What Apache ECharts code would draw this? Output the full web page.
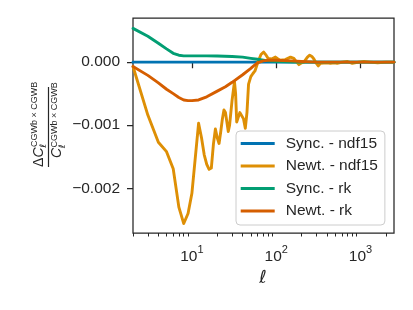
<!DOCTYPE html>
<html><head><meta charset="utf-8">
<script src="https://cdn.jsdelivr.net/npm/echarts@6/dist/echarts.min.js"></script>
<style>html,body{margin:0;padding:0;background:#fff}#c{width:413px;height:310px}</style>
</head><body><div id="c"></div>
<script>
// ---- data ----
const seriesNames = ['Sync. - ndf15', 'Newt. - ndf15', 'Sync. - rk', 'Newt. - rk'];
const seriesColors = ['#0173b2', '#de8f05', '#029e73', '#d55e00'];

const ellSyncNdf15 = [2, 10, 100, 1000, 2500];
const valSyncNdf15 = [0, 0, 0, 0, 0];

const ellNewtNdf15 = [2,3,4,5,6,7,8,9,10,11,12,13,14,15,16,17,18,19,20,21,22,23,24,25,26,27,28,30,32,33,34,35,37,39,41,43,45,47,50,53,56,59,62,66,71,75,80,88,98,105,112,128,148,162,175,186,200,213,235,250,265,280,300,316,335,352,400,440,490,530,610,700,800,950,1100,1300,1600,2000,2500];
const valNewtNdf15 = [-0.00007,-0.00084,-0.00127,-0.00142,-0.00169,-0.0023,-0.00256,-0.0024,-0.00208,-0.0015,-0.00097,-0.0012,-0.00147,-0.00162,-0.0017,-0.00168,-0.0013,-0.00106,-0.0012,-0.00129,-0.0011,-0.0009,-0.00076,-0.0008,-0.00095,-0.0011,-0.001,-0.0006,-0.00031,-0.0005,-0.00095,-0.0009,-0.0008,-0.00079,-0.0009,-0.00105,-0.0008,-0.00035,-0.00023,-0.00018,-0.00014,-0.00005,0.00003,0.00012,0.00016,0.00012,0.00006,0.00005,0.00008,0.00005,0.00003,0.00004,0.00008,0.00006,0,-0.00004,-0.00001,0,0.00008,0.00011,0.00009,0.00005,-0.00002,-0.00006,-0.00002,0,-0.00001,-0.00002,-0.00001,-0.00002,0,0.00001,-0.00002,0,0.00001,0,-0.00001,0,0];

const ellSyncRk = [2,3,4,5,6,7,8,10,15,20,30,40,50,60,80,100,130,160,200,300,500,1000,2500];
const valSyncRk = [0.000535,0.00041,0.0003,0.00021,0.00014,0.00011,0.0001,0.0001,0.0001,0.000098,0.00009,0.00008,0.00006,0.000045,0.00002,0.00001,0.000005,0.000002,0,0,0,0,0];

const ellNewtRk = [2,3,4,5,6,7,8,9,10,12,15,20,25,30,40,50,55,60,70,80,100,150,200,300,500,1000,2500];
const valNewtRk = [-0.00007,-0.00021,-0.00033,-0.00043,-0.0005,-0.00056,-0.0006,-0.00061,-0.00061,-0.0006,-0.00055,-0.00046,-0.00039,-0.00032,-0.0002,-0.0001,-0.00005,-0.00001,0.00002,0.00003,0.00003,0.00002,0.00001,0,0,0,0];

const xMajorTicks = [10, 100, 1000];
const xMinorTicks = [2,3,4,5,6,7,8,9,20,30,40,50,60,70,80,90,200,300,400,500,600,700,800,900,2000];
const yTicks = [0, -0.001, -0.002];
// ---------------

const ink = '#262626';
const FONT = '"Liberation Sans", Arial, sans-serif';
const pairs = (xs, ys) => xs.map((x, i) => [x, ys[i]]);
const allEll = [ellSyncNdf15, ellNewtNdf15, ellSyncRk, ellNewtRk];
const allVal = [valSyncNdf15, valNewtNdf15, valSyncRk, valNewtRk];

const chart = echarts.init(document.getElementById('c'), null, {renderer: 'canvas'});
chart.setOption({
  animation: false,
  backgroundColor: '#ffffff',
  grid: {left: 133, right: 19, top: 18, bottom: 77, show: true, borderColor: ink, borderWidth: 1.25, backgroundColor: 'transparent'},
  xAxis: [{
    type: 'log', logBase: 10, min: 2, max: 2500, position: 'bottom',
    axisLine: {show: false}, splitLine: {show: false}, minorTick: {show: false},
    axisTick: {show: true, inside: false, length: 6, lineStyle: {color: ink, width: 1.25}, customValues: xMajorTicks},
    axisLabel: {
      customValues: xMajorTicks, margin: 11, color: ink,
      formatter: v => '{a|10}{b|' + Math.round(Math.log10(v)) + '}',
      rich: {
        a: {fontSize: 15.5, fontFamily: FONT, color: ink, lineHeight: 26},
        b: {fontSize: 11, fontFamily: FONT, color: ink, lineHeight: 11, verticalAlign: 'top'}
      }
    }
  }, {
    type: 'log', logBase: 10, min: 2, max: 2500, position: 'bottom', offset: 0,
    axisLine: {show: false}, splitLine: {show: false}, axisLabel: {show: false},
    axisTick: {show: true, inside: false, length: 3.5, lineStyle: {color: ink, width: 1}, customValues: xMinorTicks}
  }],
  yAxis: {
    type: 'value', min: -0.00271, max: 0.0007,
    axisLine: {show: false}, splitLine: {show: false},
    axisTick: {show: true, inside: false, length: 6, lineStyle: {color: ink, width: 1.25}, customValues: yTicks},
    axisLabel: {
      customValues: yTicks, margin: 13, color: ink, fontSize: 15.5, fontFamily: FONT,
      formatter: v => (v < 0 ? '\u2212' : '') + Math.abs(v).toFixed(3)
    }
  },
  legend: {
    orient: 'vertical', left: 236, top: 131,
    data: seriesNames, icon: 'rect', itemWidth: 34, itemHeight: 3, itemGap: 4.5,
    padding: [3.5, 7, 5, 4.7],
    backgroundColor: 'rgba(255,255,255,0.8)', borderColor: '#cccccc', borderWidth: 1, borderRadius: 4,
    textStyle: {fontSize: 15.5, fontFamily: FONT, color: ink, lineHeight: 18, padding: [0, 0, 0, 6]}
  },
  series: seriesNames.map((name, i) => ({
    name, type: 'line', xAxisIndex: 0, data: pairs(allEll[i], allVal[i]),
    showSymbol: false, symbol: 'none', smooth: false, z: 2 + i,
    color: seriesColors[i],
    lineStyle: {color: seriesColors[i], width: 2.9, cap: 'round', join: 'round'}
  })),
  graphic: [
    {type: 'text', x: 263, y: 278, style: {text: '\u2113', font: 'italic 18px "DejaVu Sans"', fill: ink, textAlign: 'center', textVerticalAlign: 'middle', align: 'center', verticalAlign: 'middle'}},
    {type: 'group', x: 48.5, y: 127, rotation: Math.PI / 2, children: [
      {type: 'rect', shape: {x: -40, y: -0.6, width: 80, height: 1.2}, style: {fill: ink}},
      {type: 'text', x: -40, y: -5 + 2.7, style: {text: '\u0394', font: '14px "Liberation Sans"', fill: ink, textAlign: 'left', textVerticalAlign: 'bottom', align: 'left', verticalAlign: 'bottom'}},
      {type: 'text', x: -30.5, y: -5 + 2.7, style: {text: 'C', font: 'italic 14px "Liberation Sans"', fill: ink, textAlign: 'left', textVerticalAlign: 'bottom', align: 'left', verticalAlign: 'bottom'}},
      {type: 'text', x: -20, y: -11 + 1.7, style: {text: 'CGWb \u00d7 CGWB', font: '9px "Liberation Sans"', fill: ink, textAlign: 'left', textVerticalAlign: 'bottom', align: 'left', verticalAlign: 'bottom'}},
      {type: 'text', x: -20.5, y: -2.5 + 1.7, style: {text: '\u2113', font: 'italic 9px "DejaVu Sans"', fill: ink, textAlign: 'left', textVerticalAlign: 'bottom', align: 'left', verticalAlign: 'bottom'}},
      {type: 'text', x: -31, y: 13 + 2.7, style: {text: 'C', font: 'italic 14px "Liberation Sans"', fill: ink, textAlign: 'left', textVerticalAlign: 'bottom', align: 'left', verticalAlign: 'bottom'}},
      {type: 'text', x: -20.5, y: 9 + 1.7, style: {text: 'CGWb \u00d7 CGWB', font: '9px "Liberation Sans"', fill: ink, textAlign: 'left', textVerticalAlign: 'bottom', align: 'left', verticalAlign: 'bottom'}},
      {type: 'text', x: -21, y: 16.5 + 1.7, style: {text: '\u2113', font: 'italic 9px "DejaVu Sans"', fill: ink, textAlign: 'left', textVerticalAlign: 'bottom', align: 'left', verticalAlign: 'bottom'}}
    ]}
  ]
});
</script>
</body></html>
